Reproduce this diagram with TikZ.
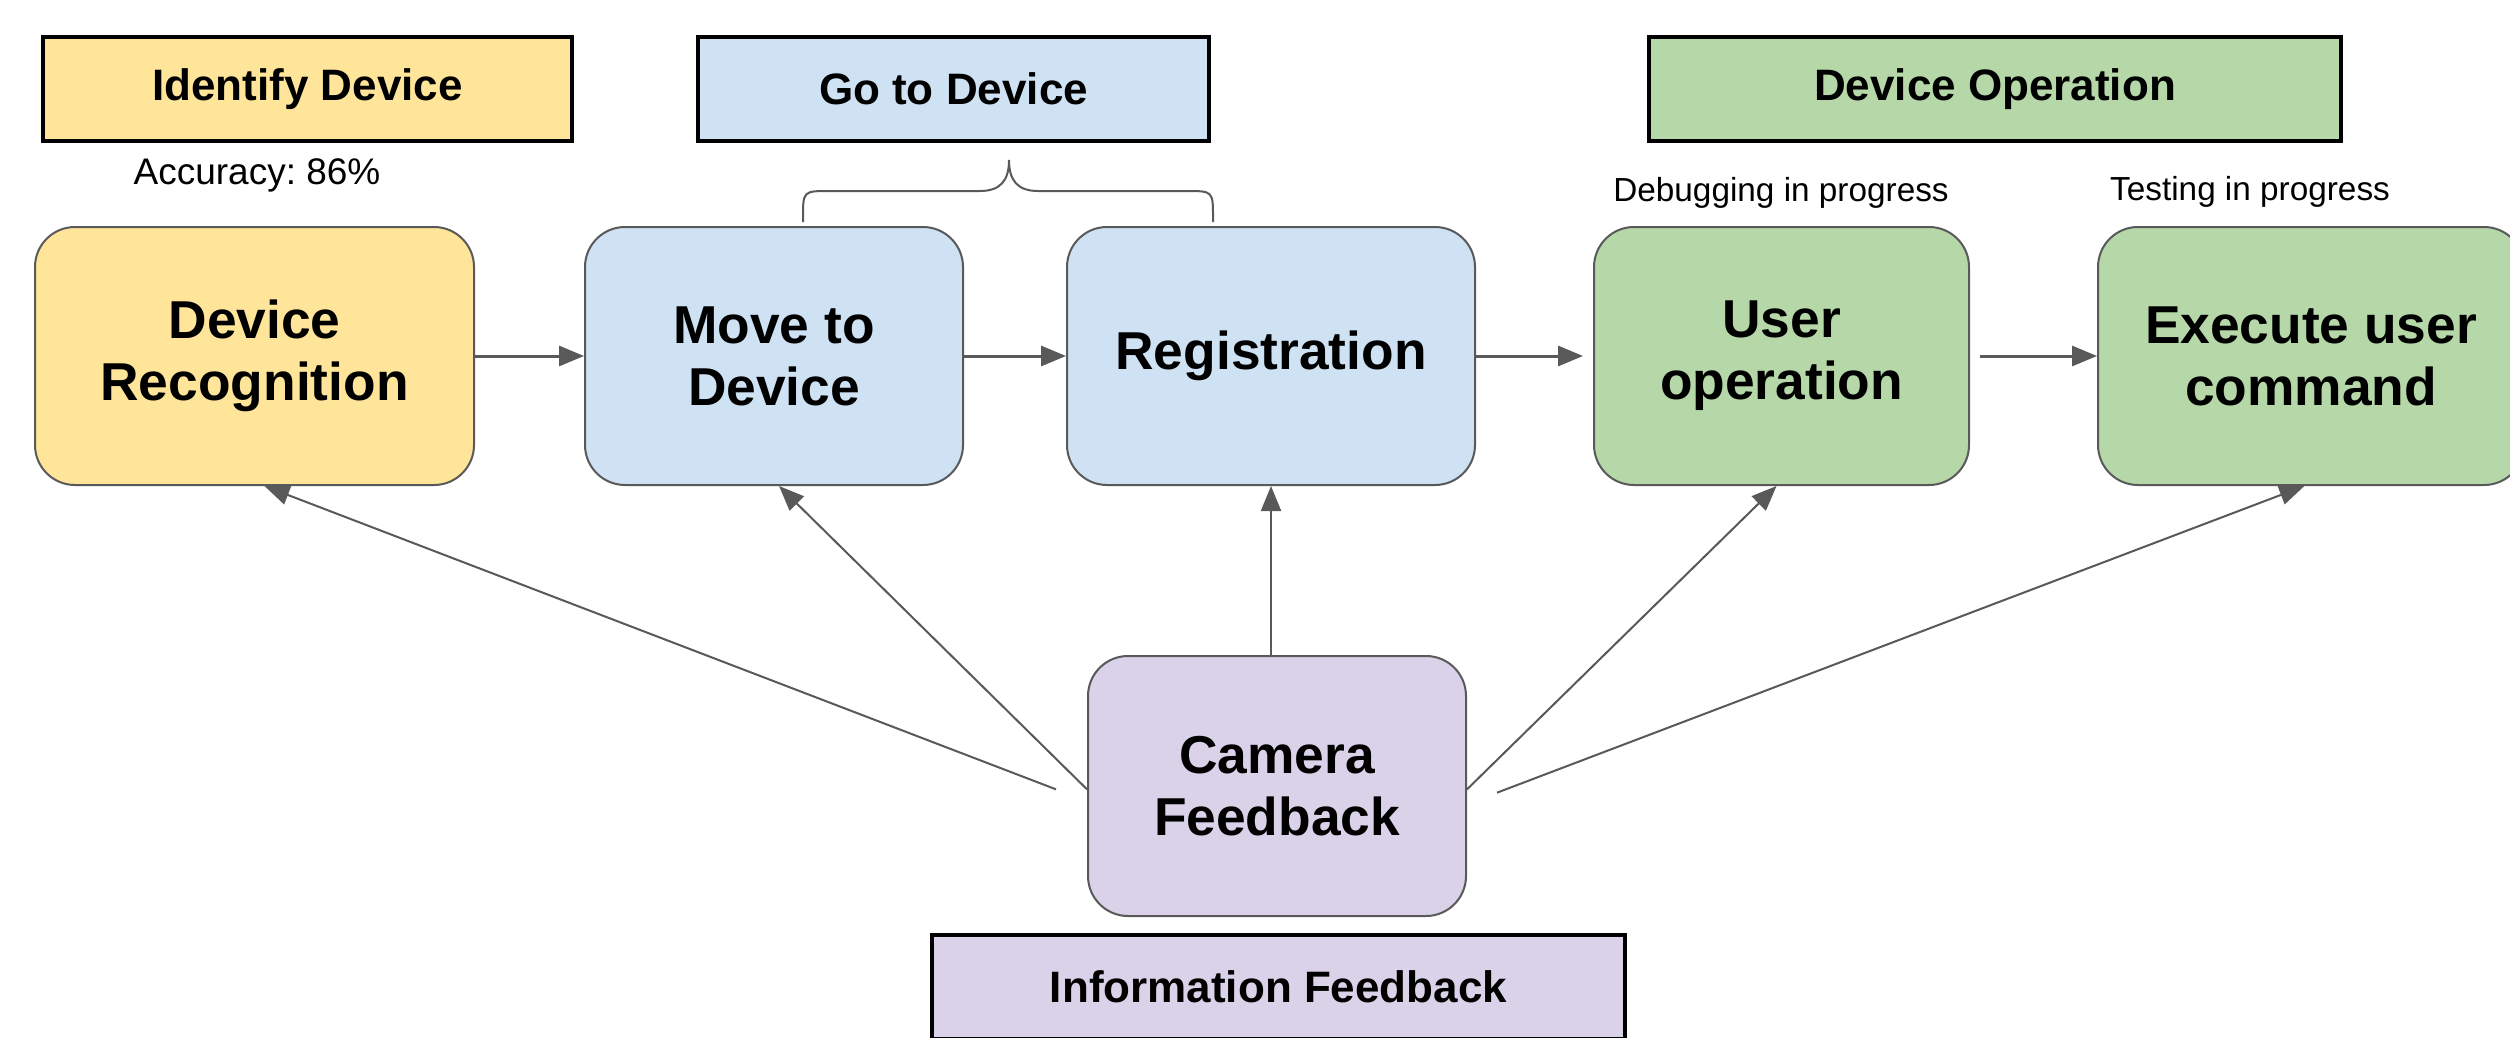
\documentclass[tikz,border=0pt]{standalone}
\usepackage{fontspec}
\setmainfont{Liberation Sans}
\usetikzlibrary{arrows.meta,calc}
\definecolor{cyel}{HTML}{FFE599}
\definecolor{cblue}{HTML}{CFE2F3}
\definecolor{cgreen}{HTML}{B6D7A8}
\definecolor{cpurp}{HTML}{D9D2E9}
\definecolor{cline}{HTML}{595959}
\frenchspacing
\begin{document}
\begin{tikzpicture}[x=0.3pt,y=-0.3pt,
  stage/.style={draw=cline, line width=0.6pt, rounded corners=12pt, minimum height=77.4pt,
    align=center, inner sep=0pt, font=\fontsize{16}{18.6}\selectfont\bfseries},
  header/.style={draw=black, line width=1.3pt, minimum height=31.2pt, inner sep=0pt,
    font=\fontsize{13.2}{15}\selectfont\bfseries},
  note/.style={inner sep=0pt, font=\fontsize{10}{12}\selectfont},
  arr/.style={draw=cline, line width=0.6pt, -{Triangle[length=7.5pt,width=6pt]}},
  harr/.style={draw=cline, line width=0.9pt, -{Triangle[length=7.5pt,width=6pt]}}]
\path[use as bounding box, fill=white] (0,0) rectangle (2510,1037);
\clip (0,0) rectangle (2510,1037);

% headers
\node[header, fill=cyel, minimum width=158.7pt] (hid) at (307.5,89) {Identify Device};
\node[header, fill=cblue, minimum width=153.3pt] (hgo) at (953.5,89) {Go to Device};
\node[header, fill=cgreen, minimum width=207.6pt] (hop) at (1995,89) {Device Operation};
\node[header, fill=cpurp, minimum width=207.9pt] (hinfo) at (1278.5,987) {Information Feedback};

% notes
\node[note, font=\fontsize{11.1}{13}\selectfont] (acc) at (257,175) {Accuracy: 86\%};
\node[note] (dbg) at (1781,193) {Debugging in progress};
\node[note] (tst) at (2250,192) {Testing in progress};

% stages
\node[stage, fill=cyel, minimum width=131.7pt] (dr) at (254.5,356) {Device\\Recognition};
\node[stage, fill=cblue, minimum width=113.4pt] (mv) at (774,356) {Move to\\Device};
\node[stage, fill=cblue, minimum width=122.4pt] (reg) at (1271,356) {Registration};
\node[stage, fill=cgreen, minimum width=112.5pt] (usr) at (1781.5,356) {User\\operation};
\node[stage, fill=cgreen, minimum width=127.8pt] (exe) at (2311,356) {Execute user\\command};
\node[stage, fill=cpurp, minimum width=113.4pt, minimum height=78pt] (cam) at (1277,786) {Camera\\Feedback};

% brace
\draw[cline, line width=0.6pt]
  (803,222) -- (803,218)
  .. controls (803,191) and (803,191) .. (830,191) -- (980,191)
  .. controls (1000,191) and (1009,181) .. (1009,160)
  .. controls (1009,181) and (1018,191) .. (1038,191) -- (1186,191)
  .. controls (1213,191) and (1213,191) .. (1213,218) -- (1213,222);

% horizontal flow
\draw[harr] (dr.east) -- (mv.west);
\draw[harr] (mv.east) -- (reg.west);
\draw[harr, shorten >=3pt] (reg.east) -- (usr.west);
\draw[harr, shorten <=3pt] (usr.east) -- (exe.west);

% feedback arrows
\draw[arr] ([xshift=-9.3pt,yshift=-1pt]cam.west) -- ([xshift=3pt]dr.south);
\draw[arr] ([yshift=-1pt]cam.west) -- ([xshift=1.5pt]mv.south);
\draw[arr] (cam.north -| reg.south) -- (reg.south);
\draw[arr] ([yshift=-1pt]cam.east) -- ([xshift=-1.5pt]usr.south);
\draw[arr] ([xshift=9pt,yshift=-2pt]cam.east) -- ([xshift=-2pt]exe.south);
\end{tikzpicture}
\end{document}
